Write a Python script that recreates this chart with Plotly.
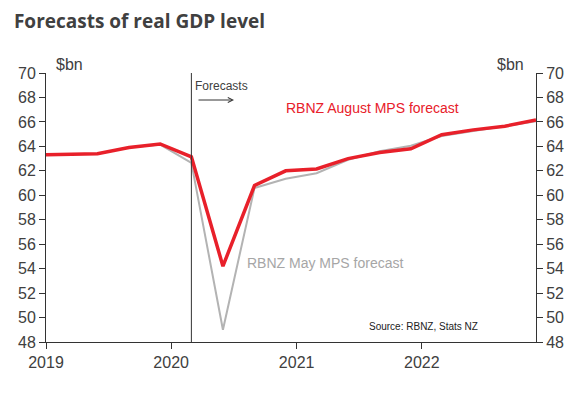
import plotly.graph_objects as go

quarters = ["2018-11-30", "2019-02-28", "2019-05-31", "2019-08-31", "2019-11-30",
            "2020-02-29", "2020-05-31", "2020-08-31", "2020-11-30",
            "2021-02-28", "2021-05-31", "2021-08-31", "2021-11-30",
            "2022-02-28", "2022-05-31", "2022-08-31", "2022-11-30"]
august_mps = [63.3, 63.35, 63.4, 63.9, 64.2, 63.15, 54.2, 60.8, 62.0,
              62.15, 63.0, 63.5, 63.8, 64.95, 65.35, 65.65, 66.15]
may_mps = [63.3, 63.35, 63.4, 63.9, 64.15, 62.65, 49.0, 60.6, 61.35,
           61.8, 62.9, 63.6, 64.05, 64.85, 65.25, 65.6, 66.05]
forecast_start = "2020-02-29"
year_ticks = ["2019-01-01", "2020-01-01", "2021-01-01", "2022-01-01"]
year_labels = ["2019", "2020", "2021", "2022"]
y_ticks = list(range(48, 71, 2))

RED = "#e8202a"
GREY = "#b3b3b3"
TXT = "#404040"
FONT = "Liberation Sans, Arial, sans-serif"

fig = go.Figure()
fig.add_trace(go.Scatter(x=quarters, y=may_mps, mode="lines",
                         line=dict(color=GREY, width=2), showlegend=False))
fig.add_trace(go.Scatter(x=quarters, y=august_mps, mode="lines",
                         line=dict(color=RED, width=3.5), showlegend=False))
fig.add_trace(go.Scatter(x=quarters, y=august_mps, mode="lines", yaxis="y2",
                         line=dict(color="rgba(0,0,0,0)", width=0),
                         showlegend=False, hoverinfo="skip"))

fig.add_shape(type="line", xref="x", yref="paper", x0=forecast_start, x1=forecast_start,
              y0=0, y1=1, line=dict(color="#333333", width=1))

axis_common = dict(range=[48, 70], tickvals=y_ticks, ticks="outside", ticklen=6,
                   tickcolor="#333333", showline=True, linecolor="#333333", linewidth=1,
                   showgrid=False, zeroline=False, automargin=False,
                   tickfont=dict(family=FONT, size=16, color=TXT))

fig.update_layout(
    width=581, height=397,
    margin=dict(l=46, r=45, t=73, b=55, autoexpand=False),
    paper_bgcolor="white", plot_bgcolor="white",
    title=dict(text="<b>Forecasts of real GDP level</b>", x=0.024, xanchor="left",
               y=0.945, yanchor="middle",
               font=dict(family="Open Sans, sans-serif", size=19, color=TXT)),
    xaxis=dict(range=["2019-01-01", "2022-11-30"], tickvals=year_ticks, ticktext=year_labels,
               ticks="outside", ticklen=6, tickcolor="#333333", showline=True,
               linecolor="#333333", linewidth=1, showgrid=False, zeroline=False,
               automargin=False,
               tickfont=dict(family=FONT, size=16, color=TXT)),
    yaxis=dict(side="left", **axis_common),
    yaxis2=dict(side="right", overlaying="y", **axis_common),
)

ann_font = dict(family=FONT, color=TXT)
fig.add_annotation(text="$bn", xref="paper", yref="paper", x=(54-46)/490, y=(342-65)/269,
                   xanchor="left", yanchor="middle", showarrow=False,
                   font=dict(size=16, **ann_font))
fig.add_annotation(text="$bn", xref="paper", yref="paper", x=(526-46)/490, y=(342-65)/269,
                   xanchor="right", yanchor="middle", showarrow=False,
                   font=dict(size=16, **ann_font))
fig.add_annotation(text="Forecasts", xref="paper", yref="paper", x=(193-46)/490, y=(342-86)/269,
                   xanchor="left", yanchor="middle", showarrow=False,
                   font=dict(size=12, **ann_font))
fig.add_annotation(text="", xref="paper", yref="paper", x=(234-46)/490, y=(342-100)/269,
                   axref="pixel", ayref="pixel", ax=-37, ay=0, showarrow=True,
                   arrowhead=5, arrowsize=1, arrowwidth=1, arrowcolor="#333333")
fig.add_annotation(text="RBNZ August MPS forecast", xref="paper", yref="paper",
                   x=(284-46)/490, y=(342-108)/269, xanchor="left", yanchor="middle",
                   showarrow=False, font=dict(family=FONT, size=14, color=RED))
fig.add_annotation(text="RBNZ May MPS forecast", xref="paper", yref="paper",
                   x=(245-46)/490, y=(342-263)/269, xanchor="left", yanchor="middle",
                   showarrow=False, font=dict(family=FONT, size=14, color="#a6a6a6"))
fig.add_annotation(text="Source: RBNZ, Stats NZ", xref="paper", yref="paper",
                   x=(367-46)/490, y=(342-326)/269, xanchor="left", yanchor="middle",
                   showarrow=False, font=dict(family=FONT, size=10, color="#222222"))

fig.write_html("out.html", config={"displayModeBar": False},
               post_script="document.body.style.margin='0';")
